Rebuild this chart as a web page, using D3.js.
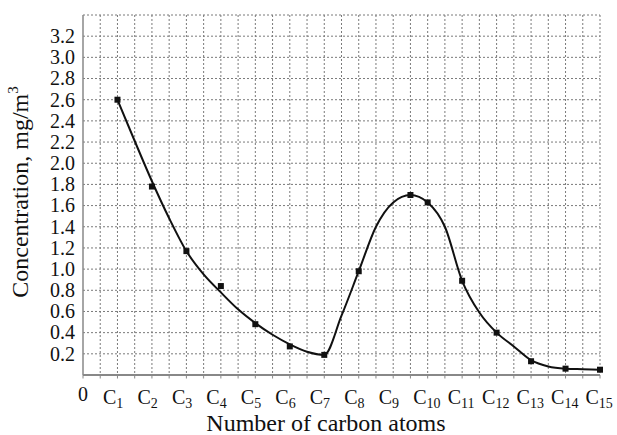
<!DOCTYPE html>
<html>
<head>
<meta charset="utf-8">
<script src="https://cdn.jsdelivr.net/npm/d3@7"></script>
<style>
  body { margin: 0; background: #fff; }
  svg { display: block; font-family: "Liberation Serif", "Times New Roman", serif; }
  .grid line { stroke: #7a7a7a; stroke-width: 1; stroke-dasharray: 2,2; }
  .tick-label { font-size: 20px; fill: #111; }
  .axis-title { font-size: 24px; fill: #111; }
</style>
</head>
<body>
<div id="chart"></div>
<script>
// Concentration of hydrocarbons by number of carbon atoms.
// Measured points are drawn as small squares; a smooth hand-fitted
// curve runs through (or close to) them.

const tickPositions = [0, 1, 2, 3, 4, 5, 6, 7, 8, 9, 10, 11, 12, 13, 14, 15];
const tickSubscripts = ["", "1", "2", "3", "4", "5", "6", "7", "8", "9", "10", "11", "12", "13", "14", "15"];
const yTicks = [0.2, 0.4, 0.6, 0.8, 1.0, 1.2, 1.4, 1.6, 1.8, 2.0, 2.2, 2.4, 2.6, 2.8, 3.0, 3.2];

// measured points
const pointCarbons = [1, 2, 3, 4, 5, 6, 7, 8, 9.5, 10, 11, 12, 13, 14, 15];
const pointConc = [2.60, 1.78, 1.17, 0.84, 0.48, 0.27, 0.19, 0.98, 1.70, 1.63, 0.89, 0.40, 0.13, 0.06, 0.05];

// fitted curve, every half step
const curveCarbons = [1, 1.5, 2, 2.5, 3, 3.5, 4, 4.5, 5, 5.5, 6, 6.5, 7, 7.5, 8, 8.5, 9, 9.5, 10, 10.5, 11, 11.5, 12, 12.5, 13, 13.5, 14, 14.5, 15];
const curveConc = [2.60, 2.21, 1.83, 1.48, 1.17, 0.95, 0.78, 0.62, 0.49, 0.38, 0.29, 0.22, 0.19, 0.56, 0.98, 1.40, 1.63, 1.70, 1.63, 1.40, 0.89, 0.59, 0.40, 0.27, 0.14, 0.08, 0.06, 0.055, 0.05];

const W = 617, H = 435;
const plot = {left: 83, right: 600, top: 15, bottom: 375};

const svg = d3.select("#chart").append("svg")
    .attr("width", W)
    .attr("height", H);

const x = d3.scaleLinear().domain([0, 15]).range([plot.left, plot.right]);
const y = d3.scaleLinear().domain([0, 3.4]).range([plot.bottom, plot.top]);

// Grid: vertical lines every half carbon, horizontal every 0.2
const grid = svg.append("g").attr("class", "grid");
grid.selectAll(".v")
    .data(d3.range(1, 31).map(i => i / 2))
    .join("line")
    .attr("x1", d => x(d)).attr("x2", d => x(d))
    .attr("y1", y(3.4)).attr("y2", y(0));
grid.selectAll(".h")
    .data(d3.range(1, 18).map(i => i / 5))
    .join("line")
    .attr("x1", x(0)).attr("x2", x(15))
    .attr("y1", d => y(d)).attr("y2", d => y(d));

// Axes lines
svg.append("line")
    .attr("x1", x(0)).attr("x2", x(0))
    .attr("y1", y(3.4)).attr("y2", y(0))
    .attr("stroke", "#888").attr("stroke-width", 1.5);
svg.append("line")
    .attr("x1", x(0)).attr("x2", x(15))
    .attr("y1", y(0)).attr("y2", y(0))
    .attr("stroke", "#888").attr("stroke-width", 2);

// tiny ticks under the x axis
svg.append("g").selectAll("line")
    .data(d3.range(0, 31).map(i => i / 2))
    .join("line")
    .attr("x1", d => x(d)).attr("x2", d => x(d))
    .attr("y1", y(0)).attr("y2", y(0) + 3.5)
    .attr("stroke", "#888").attr("stroke-width", 1);

// y tick labels
svg.append("g").selectAll("text")
    .data(yTicks)
    .join("text")
    .attr("class", "tick-label")
    .attr("x", 75)
    .attr("y", d => y(d))
    .attr("dy", "0.34em")
    .attr("text-anchor", "end")
    .text(d => d.toFixed(1));

// x tick labels: "0", then C with subscript
const xl = svg.append("g").selectAll("text")
    .data(tickPositions)
    .join("text")
    .attr("class", "tick-label")
    .attr("y", 404);
xl.each(function(d, i) {
    const t = d3.select(this);
    if (i === 0) {
        t.attr("x", x(d)).attr("text-anchor", "middle").attr("y", 401).text("0");
        return;
    }
    t.attr("x", x(d) - 14.5);
    t.append("tspan").text("C");
    t.append("tspan")
        .attr("font-size", "14px")
        .attr("dy", 4)
        .text(tickSubscripts[i]);
});

// fitted curve
const line = d3.line()
    .x((d, i) => x(curveCarbons[i]))
    .y(d => y(d))
    .curve(d3.curveMonotoneX);

svg.append("path")
    .datum(curveConc)
    .attr("fill", "none")
    .attr("stroke", "#111")
    .attr("stroke-width", 2)
    .attr("d", line);

// measured points
svg.append("g").selectAll("rect")
    .data(pointConc)
    .join("rect")
    .attr("x", (d, i) => x(pointCarbons[i]) - 3)
    .attr("y", d => y(d) - 3)
    .attr("width", 6)
    .attr("height", 6)
    .attr("fill", "#111");

// axis titles
svg.append("text")
    .attr("class", "axis-title")
    .attr("x", 326)
    .attr("y", 431)
    .attr("text-anchor", "middle")
    .text("Number of carbon atoms");

const yt = svg.append("text")
    .attr("class", "axis-title")
    .attr("transform", "translate(28,192) rotate(-90)")
    .attr("text-anchor", "middle");
yt.append("tspan").text("Concentration, mg/m");
yt.append("tspan").attr("font-size", "15px").attr("dy", -10).text("3");
</script>
</body>
</html>
